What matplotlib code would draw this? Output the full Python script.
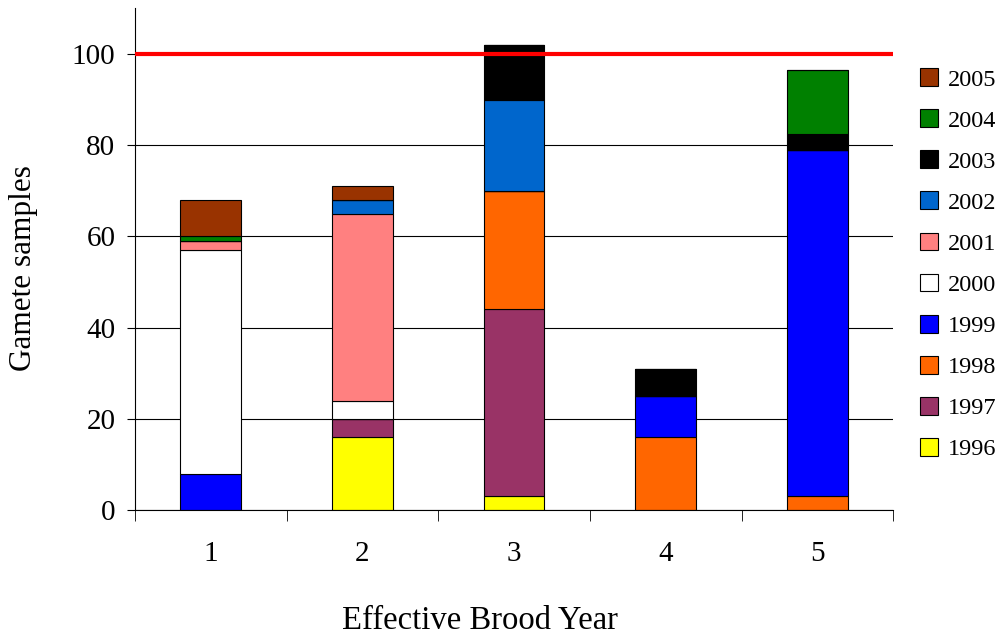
import matplotlib
matplotlib.use('Agg')
import matplotlib.pyplot as plt
import numpy as np

plt.rcParams['font.family'] = ['Liberation Serif', 'DejaVu Serif']

# Data: gamete samples per cohort year, by effective brood year.
brood_years = [1, 2, 3, 4, 5]
years = ['1996', '1997', '1998', '1999', '2000', '2001', '2002', '2003', '2004', '2005']
v1996 = [0, 16, 3, 0, 0]
v1997 = [0, 4, 41, 0, 0]
v1998 = [0, 0, 26, 16, 3]
v1999 = [8, 0, 0, 9, 76]
v2000 = [49, 4, 0, 0, 0]
v2001 = [2, 41, 0, 0, 0]
v2002 = [0, 3, 20, 0, 0]
v2003 = [0, 0, 12, 6, 3.5]
v2004 = [1, 0, 0, 0, 14]
v2005 = [8, 3, 0, 0, 0]
target = 100

series = [v1996, v1997, v1998, v1999, v2000, v2001, v2002, v2003, v2004, v2005]
colors = ['#FFFF00', '#993366', '#FF6600', '#0000FF', '#FFFFFF',
          '#FF8080', '#0066CC', '#000000', '#008000', '#993300']

fig = plt.figure(figsize=(10.06, 6.36), dpi=100)
ax = fig.add_axes([0.134, 0.198, 0.754, 0.789])

# gridlines behind bars
ax.set_axisbelow(True)
ax.yaxis.grid(True, color='black', linewidth=0.8)

# stacked bars
x = np.arange(len(brood_years))
bottom = np.zeros(len(brood_years))
handles = []
for label, vals, col in zip(years, series, colors):
    vals = np.array(vals, dtype=float)
    b = ax.bar(x, vals, bottom=bottom, width=0.4, color=col,
               edgecolor='black', linewidth=0.8, label=label)
    handles.append(b)
    bottom += vals

# target line
ax.axhline(target, color='#FF0000', linewidth=3, zorder=5)

ax.set_xlim(-0.5, 4.5)
ax.set_ylim(0, 110)
ax.set_yticks([0, 20, 40, 60, 80, 100])
ax.set_xticks(x)
ax.set_xticklabels([str(b) for b in brood_years])
ax.set_xticks(np.arange(-0.5, 5, 1), minor=True)
ax.tick_params(axis='x', which='major', length=0, pad=22, labelsize=21)
ax.tick_params(axis='x', which='minor', length=8, direction='out')
ax.tick_params(axis='y', length=6, direction='out', pad=8, labelsize=21)

for side in ['top', 'right']:
    ax.spines[side].set_visible(False)

ax.set_ylabel('Gamete samples', fontsize=22.5)
ax.yaxis.set_label_coords(-0.128, 0.482)
ax.set_xlabel('Effective Brood Year', fontsize=23.5)
ax.xaxis.set_label_coords(0.455, -0.19)

# legend, newest year on top
ax.legend(handles[::-1], years[::-1], loc='upper left',
          bbox_to_anchor=(1.022, 0.9), frameon=False, fontsize=17.5,
          handlelength=0.75, handleheight=0.75, handletextpad=0.4,
          labelspacing=0.77, borderaxespad=0)

fig.savefig('out.png', dpi=100)
